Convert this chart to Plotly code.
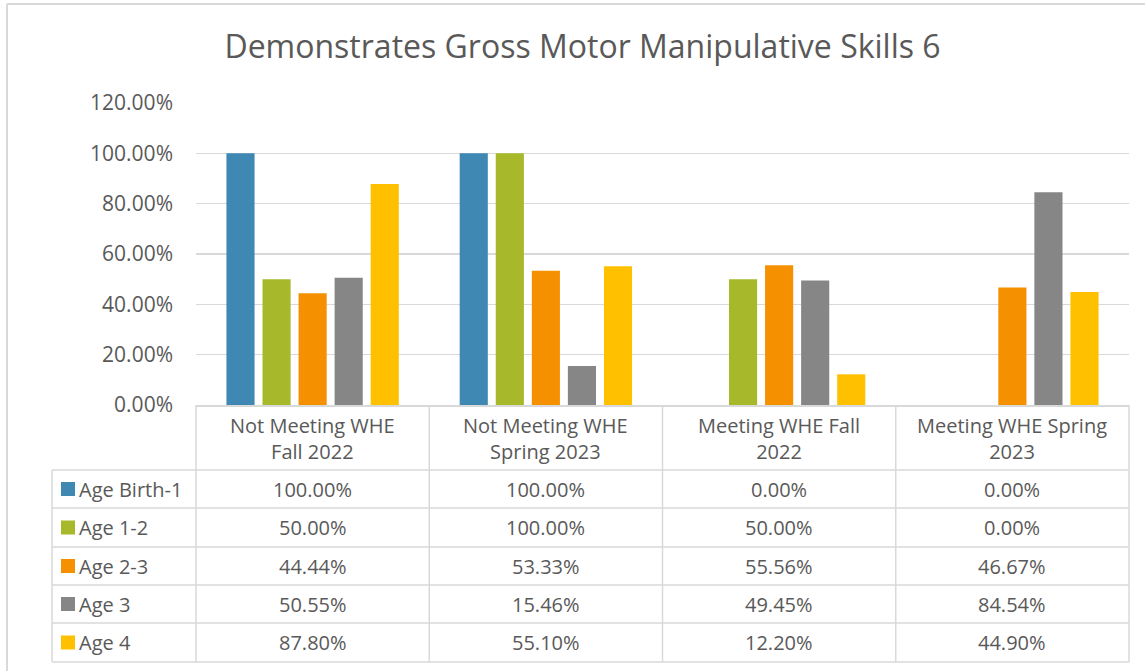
import plotly.graph_objects as go

categories = ["Not Meeting WHE Fall 2022", "Not Meeting WHE Spring 2023",
              "Meeting WHE Fall 2022", "Meeting WHE Spring 2023"]
header_labels = ["Not Meeting WHE<br>Fall 2022", "Not Meeting WHE<br>Spring 2023",
                 "Meeting WHE Fall<br>2022", "Meeting WHE Spring<br>2023"]
series_names = ["Age Birth-1", "Age 1-2", "Age 2-3", "Age 3", "Age 4"]
age_birth_1 = [100.00, 100.00, 0.00, 0.00]
age_1_2 = [50.00, 100.00, 50.00, 0.00]
age_2_3 = [44.44, 53.33, 55.56, 46.67]
age_3 = [50.55, 15.46, 49.45, 84.54]
age_4 = [87.80, 55.10, 12.20, 44.90]
series_values = [age_birth_1, age_1_2, age_2_3, age_3, age_4]
colors = ["#3f88b3", "#a7b82a", "#f59000", "#868686", "#ffc000"]
y_ticks = [0, 20, 40, 60, 80, 100, 120]

W, H = 1145, 671
L, R, T, B = 196, 1129, 103, 405  # plot area pixel bounds
FONT = "'Open Sans', Lato, sans-serif"
TXT = "#595959"
GRID = "#d9d9d9"

def px_x(px):
    return (px - L) / (R - L)

def px_y(py):
    return (B - py) / (B - T)

fig = go.Figure()
xs = list(range(len(categories)))
for name, vals, col in zip(series_names, series_values, colors):
    fig.add_trace(go.Bar(x=xs, y=vals, name=name, marker_color=col,
                         marker_line_width=0, showlegend=False, hoverinfo="skip"))

shapes = []
annotations = []

row_tops = [470, 508, 547, 585, 623, 662]
col_edges = [L + (R - L) * i / 4 for i in range(5)]
left_edge = 52

for xe in col_edges:
    shapes.append(dict(type="line", xref="paper", yref="paper",
                       x0=px_x(xe), x1=px_x(xe), y0=px_y(B), y1=px_y(row_tops[-1]),
                       line=dict(color=GRID, width=1.5)))
shapes.append(dict(type="line", xref="paper", yref="paper",
                   x0=px_x(left_edge), x1=px_x(left_edge), y0=px_y(row_tops[0]), y1=px_y(row_tops[-1]),
                   line=dict(color=GRID, width=1.5)))
for yt in row_tops:
    shapes.append(dict(type="line", xref="paper", yref="paper",
                       x0=px_x(left_edge), x1=px_x(R), y0=px_y(yt), y1=px_y(yt),
                       line=dict(color=GRID, width=1.5)))

# outer chart border (top and left)
shapes.append(dict(type="line", xref="paper", yref="paper",
                   x0=px_x(7), x1=px_x(W), y0=px_y(4), y1=px_y(4),
                   line=dict(color=GRID, width=2)))
shapes.append(dict(type="line", xref="paper", yref="paper",
                   x0=px_x(7), x1=px_x(7), y0=px_y(4), y1=px_y(H),
                   line=dict(color=GRID, width=2)))

for i, lab in enumerate(header_labels):
    cx = (col_edges[i] + col_edges[i + 1]) / 2
    annotations.append(dict(x=px_x(cx), y=px_y((B + row_tops[0]) / 2 + 1), xref="paper", yref="paper",
                            text=lab, showarrow=False, font=dict(family=FONT, size=20, color=TXT),
                            xanchor="center", yanchor="middle", align="center"))

for r, (name, vals, col) in enumerate(zip(series_names, series_values, colors)):
    cy = (row_tops[r] + row_tops[r + 1]) / 2
    shapes.append(dict(type="rect", xref="paper", yref="paper",
                       x0=px_x(61), x1=px_x(75), y0=px_y(cy - 7), y1=px_y(cy + 7),
                       fillcolor=col, line=dict(width=0)))
    annotations.append(dict(x=px_x(77), y=px_y(cy), xref="paper", yref="paper",
                            text=name, showarrow=False, font=dict(family=FONT, size=20, color=TXT),
                            xanchor="left", yanchor="middle"))
    for i, v in enumerate(vals):
        cx = (col_edges[i] + col_edges[i + 1]) / 2
        annotations.append(dict(x=px_x(cx), y=px_y(cy), xref="paper", yref="paper",
                                text=f"{v:.2f}%", showarrow=False,
                                font=dict(family=FONT, size=20, color=TXT),
                                xanchor="center", yanchor="middle"))

fig.update_layout(
    width=W, height=H,
    margin=dict(l=L, r=W - R, t=T, b=H - B, autoexpand=False),
    paper_bgcolor="white", plot_bgcolor="white",
    barmode="group", bargap=0.227, bargroupgap=0.22,
    hovermode=False,
    title=dict(text="Demonstrates Gross Motor Manipulative Skills 6",
               x=(220 + 945) / 2 / W, xref="container", xanchor="center",
               y=1 - 47 / H, yref="container", yanchor="middle",
               font=dict(family=FONT, size=32, color=TXT)),
    font=dict(family=FONT, color=TXT),
    shapes=shapes, annotations=annotations,
)
fig.update_xaxes(range=[-0.5, 3.5], showticklabels=False, showgrid=False,
                 zeroline=False, showline=True, linecolor=GRID, linewidth=1.5,
                 fixedrange=True)
fig.update_yaxes(range=[0, 120], tickvals=y_ticks,
                 ticktext=[f"{t:.2f}%" for t in y_ticks],
                 showgrid=True, gridcolor=GRID, gridwidth=1.5, zeroline=False,
                 ticks="", ticklabelstandoff=22, fixedrange=True,
                 tickfont=dict(family=FONT, size=21, color=TXT))

fig.write_html("out.html", config={"displayModeBar": False, "staticPlot": True},
               post_script="document.body.style.margin='0';document.body.style.overflow='hidden';")
